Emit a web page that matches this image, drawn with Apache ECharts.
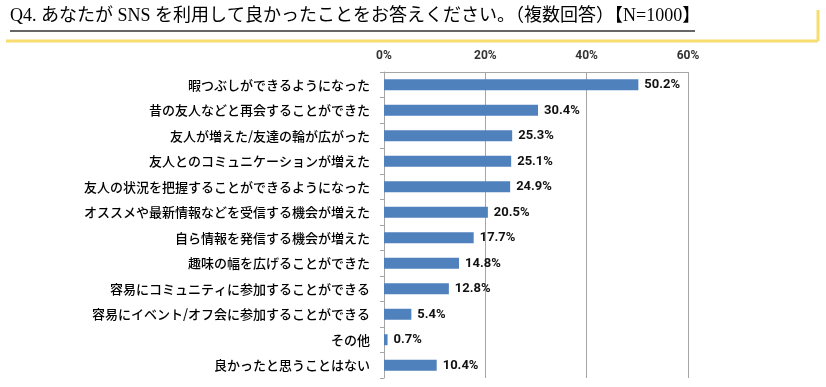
<!DOCTYPE html>
<html>
<head>
<meta charset="utf-8">
<script src="https://cdn.jsdelivr.net/npm/echarts@6/dist/echarts.min.js"></script>
<style>
html,body{margin:0;padding:0;background:#fff;}
#chart{width:826px;height:387px;}
</style>
</head>
<body>
<div id="chart"></div>
<script>
const titleText = 'Q4. あなたが SNS を利用して良かったことをお答えください。（複数回答）【N=1000】';
const categories = [
  '暇つぶしができるようになった',
  '昔の友人などと再会することができた',
  '友人が増えた/友達の輪が広がった',
  '友人とのコミュニケーションが増えた',
  '友人の状況を把握することができるようになった',
  'オススメや最新情報などを受信する機会が増えた',
  '自ら情報を発信する機会が増えた',
  '趣味の幅を広げることができた',
  '容易にコミュニティに参加することができる',
  '容易にイベント/オフ会に参加することができる',
  'その他',
  '良かったと思うことはない'
];
const values = [50.2, 30.4, 25.3, 25.1, 24.9, 20.5, 17.7, 14.8, 12.8, 5.4, 0.7, 10.4];
const xTicks = [0, 20, 40, 60];

const chart = echarts.init(document.getElementById('chart'));
chart.setOption({
  animation: false,
  backgroundColor: '#ffffff',
  graphic: [
    {type: 'text', left: 10, top: 7, style: {text: titleText, font: '18px "Liberation Serif", "Noto Sans CJK JP", serif', fill: '#000'}},
    {type: 'line', shape: {x1: 10, y1: 31, x2: 695, y2: 31}, style: {stroke: '#333', lineWidth: 1.5}},
    {type: 'line', shape: {x1: 6, y1: 41, x2: 818, y2: 41}, style: {stroke: '#F7DC6F', lineWidth: 3}},
    {type: 'line', shape: {x1: 818, y1: 10, x2: 818, y2: 41}, style: {stroke: '#F7DC6F', lineWidth: 3}}
  ],
  grid: {left: 384, right: 138, top: 72, bottom: 9, containLabel: false},
  xAxis: {
    type: 'value', position: 'top', min: xTicks[0], max: xTicks[xTicks.length - 1], interval: 20,
    axisLine: {show: true, lineStyle: {color: '#A6A6A6'}},
    axisTick: {show: false},
    axisLabel: {formatter: '{value}%', margin: 10, color: '#333', fontSize: 12, fontWeight: 'bold', fontFamily: 'Roboto, "Noto Sans", sans-serif'},
    splitLine: {show: true, lineStyle: {color: '#A6A6A6', width: 1}}
  },
  yAxis: {
    type: 'category', inverse: true, data: categories,
    axisLine: {show: true, lineStyle: {color: '#A6A6A6'}},
    axisTick: {show: true, length: 4, lineStyle: {color: '#A6A6A6'}},
    axisLabel: {margin: 14, color: '#000', fontSize: 13, fontWeight: 500, fontFamily: '"Noto Sans CJK JP", sans-serif'}
  },
  series: [{
    type: 'bar', data: values, barWidth: 11,
    itemStyle: {color: '#4F81BD'},
    label: {show: true, position: 'right', distance: 6, formatter: p => p.value.toFixed(1) + '%', color: '#111', fontSize: 13, fontWeight: 'bold', fontFamily: 'Roboto, "Noto Sans", sans-serif'}
  }]
});
</script>
</body>
</html>
